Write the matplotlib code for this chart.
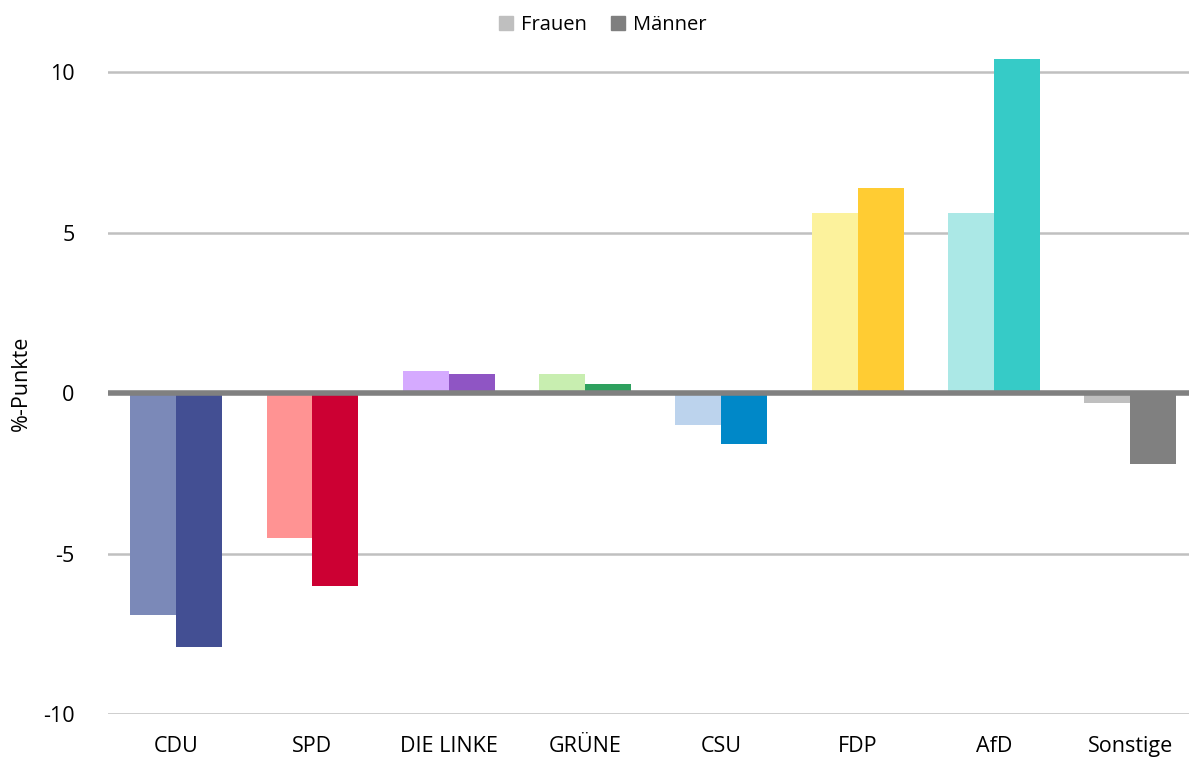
import numpy as np
import matplotlib.pyplot as plt

# Parteien und Veraenderung in %-Punkten
parteien = ['CDU', 'SPD', 'DIE LINKE', 'GRÜNE', 'CSU', 'FDP', 'AfD', 'Sonstige']
frauen = [-6.9, -4.5, 0.7, 0.6, -1.0, 5.6, 5.6, -0.3]
maenner = [-7.9, -6.0, 0.6, 0.3, -1.6, 6.4, 10.4, -2.2]

farben_frauen = ['#7b89b8', '#ff9393', '#d5aaff', '#c8eeb0', '#bcd3ed', '#fcf29c', '#abe8e6', '#bfbfbf']
farben_maenner = ['#434f93', '#cc0033', '#8f55c4', '#2ea05e', '#0088c8', '#ffcc33', '#36cbc7', '#808080']

plt.rcParams['font.family'] = ['Open Sans', 'DejaVu Sans']

fig = plt.figure(figsize=(11.89, 7.60), dpi=100)
ax = fig.add_axes([108 / 1189, 1 - 714 / 760, (1189 - 108) / 1189, (714 - 53) / 760])

x = np.arange(len(parteien))
w = 0.337
ax.bar(x - w / 2, frauen, w, color=farben_frauen, zorder=2)
ax.bar(x + w / 2, maenner, w, color=farben_maenner, zorder=2)

ax.set_xlim(-0.5, 7.43)
ax.set_ylim(-10, 10.6)
ax.set_yticks([-10, -5, 0, 5, 10])
ax.set_yticklabels(['-10', '-5', '0', '5', '10'])
ax.yaxis.grid(True, color='#c0c0c0', linewidth=1.8, zorder=0)
ax.axhline(0, color='#808080', linewidth=4, zorder=3)

ax.set_xticks(x)
ax.set_xticklabels(parteien)
ax.tick_params(axis='both', length=0, labelsize=15.5, colors='black')
ax.tick_params(axis='x', pad=16)
ax.tick_params(axis='y', pad=24)
for s in ax.spines.values():
    s.set_visible(False)

ax.set_ylabel('%-Punkte', fontsize=15.5, labelpad=8)

# Legende oben
h1 = plt.Rectangle((0, 0), 1, 1, color='#bfbfbf')
h2 = plt.Rectangle((0, 0), 1, 1, color='#7f7f7f')
fig.legend([h1, h2], ['Frauen', 'Männer'], loc='center', bbox_to_anchor=(0.507, 1 - 25 / 760),
           ncol=2, frameon=False, fontsize=14.5, handlelength=0.7, handleheight=0.7,
           handletextpad=0.4, columnspacing=1.2)

fig.savefig('out.png', dpi=100)
